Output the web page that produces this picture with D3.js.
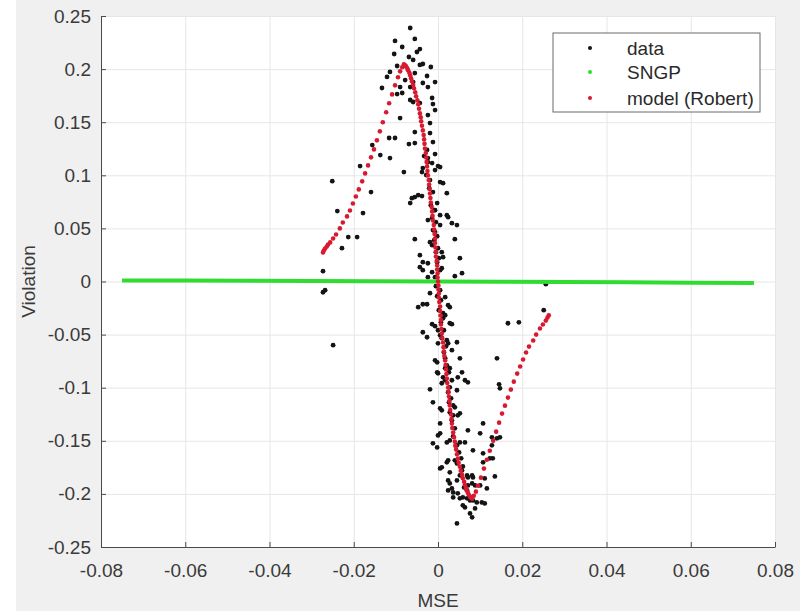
<!DOCTYPE html>
<html>
<head>
<meta charset="utf-8">
<script src="https://cdn.jsdelivr.net/npm/d3@7"></script>
<style>
  html, body { margin: 0; padding: 0; background: #fff; }
  #chart { width: 800px; height: 611px; }
  text { font-family: "Liberation Sans", Arial, Helvetica, sans-serif; }
</style>
</head>
<body>
<div id="chart"></div>
<script>
const xTicks = [-0.08, -0.06, -0.04, -0.02, 0, 0.02, 0.04, 0.06, 0.08];
const yTicks = [-0.25, -0.2, -0.15, -0.1, -0.05, 0, 0.05, 0.1, 0.15, 0.2, 0.25];
const legendLabels = ["data", "SNGP", "model (Robert)"];

// [MSE, Violation]
const dataPoints = [
  [-0.0066,0.2387],[-0.0055,0.2284],[-0.0102,0.2265],[-0.0085,0.2208],[-0.0043,0.2189],[-0.0050,0.2161],
  [-0.0104,0.2142],[-0.0069,0.2114],[-0.0059,0.2086],[-0.0097,0.2029],[-0.0043,0.2039],[-0.0036,0.2048],
  [-0.0017,0.2020],[-0.0114,0.1973],[-0.0121,0.1926],[-0.0055,0.1963],[-0.0026,0.1935],[-0.0078,0.1897],
  [-0.0059,0.1878],[-0.0036,0.1869],[-0.0007,0.1878],[-0.0133,0.1822],[-0.0090,0.1831],[-0.0066,0.1831],
  [-0.0024,0.1831],[-0.0097,0.1765],[-0.0085,0.1775],[-0.0066,0.1709],[-0.0059,0.1690],[-0.0043,0.1680],
  [-0.0014,0.1728],[-0.0012,0.1671],[-0.0007,0.1614],[-0.0024,0.1567],[-0.0090,0.1539],[-0.0019,0.1492],
  [-0.0055,0.1407],[-0.0019,0.1398],[-0.0156,0.1285],[-0.0116,0.1351],[-0.0102,0.1351],[-0.0069,0.1294],
  [-0.0055,0.1303],[-0.0012,0.1313],
  [-0.0185,0.1087],[-0.0137,0.1190],[-0.0114,0.1162],[-0.0081,0.1030],[-0.0251,0.0945],[-0.0159,0.0842],
  [-0.0239,0.0663],[-0.0178,0.0644],[-0.0213,0.0418],[-0.0192,0.0418],[-0.0228,0.0314],[-0.0273,0.0097],
  [-0.0268,-0.0082],[-0.0273,-0.0101],[-0.0249,-0.0600],
  [-0.0007,0.1200],[-0.0014,0.1115],[-0.0007,0.1049],[0.0000,0.1087],[0.0005,0.0936],[0.0012,0.0926],
  [0.0021,0.0832],[-0.0047,0.0813],[-0.0062,0.0785],[-0.0055,0.0795],[-0.0038,0.0804],[-0.0066,0.0738],
  [-0.0036,0.1068],[-0.0038,0.1030],[0.0005,0.1077],[-0.0024,0.1162],[-0.0002,0.0738],[-0.0007,0.0672],
  [0.0005,0.0625],[0.0021,0.0625],[0.0024,0.0606],[0.0033,0.0549],[0.0045,0.0531],[0.0005,0.0531],
  [-0.0012,0.0484],[-0.0055,0.0399],[-0.0014,0.0342],[-0.0019,0.0370],[0.0040,0.0399],[0.0009,0.0276],
  [0.0012,0.0229],[-0.0043,0.0248],[-0.0036,0.0182],[-0.0024,0.0172],[-0.0043,0.0135],[-0.0036,0.0107],
  [0.0052,0.0220],[0.0057,0.0078],[0.0040,0.0050],[-0.0014,0.0088],[-0.0007,0.0041],[0.0009,0.0125],
  [-0.0024,0.0578],[-0.0024,0.0041],
  [-0.0019,-0.0110],[-0.0047,-0.0242],[-0.0036,-0.0214],[-0.0026,-0.0214],[0.0017,-0.0148],[0.0024,-0.0223],
  [0.0028,-0.0242],[0.0012,-0.0299],[0.0017,-0.0318],[0.0028,-0.0393],[0.0033,-0.0402],[-0.0014,-0.0402],
  [-0.0007,-0.0421],[-0.0036,-0.0478],[-0.0026,-0.0525],[0.0000,-0.0459],[0.0005,-0.0506],[0.0021,-0.0553],
  [0.0024,-0.0582],[0.0045,-0.0572],[0.0000,-0.0582],[0.0033,-0.0647],[0.0052,-0.0723],[0.0140,-0.0723],
  [-0.0007,-0.0742],[-0.0002,-0.0761],[0.0017,-0.0723],[-0.0002,-0.0855],[0.0000,-0.0864],[0.0028,-0.0817],
  [0.0057,-0.0855],[0.0012,-0.0902],[0.0017,-0.0930],[0.0047,-0.0902],[0.0064,-0.0930],[0.0071,-0.0949],
  [0.0009,-0.0958],[0.0033,-0.0930],[-0.0019,-0.1015],[0.0028,-0.0996],[0.0145,-0.0968],[0.0147,-0.1006],
  [0.0045,-0.1024],[-0.0012,-0.1138],[0.0036,-0.1166],[0.0040,-0.1185],[0.0005,-0.1194],[0.0009,-0.1213],
  [0.0028,-0.1232],[0.0036,-0.1260],[0.0047,-0.1260],[0.0052,-0.1241],
  [0.0166,-0.0393],[0.0192,-0.0384],[0.0256,-0.0025],[0.0251,-0.0270],
  [0.0005,-0.1336],[0.0107,-0.1336],[0.0071,-0.1401],[0.0100,-0.1430],[0.0005,-0.1430],[0.0000,-0.1449],
  [-0.0012,-0.1524],[-0.0002,-0.1562],[0.0021,-0.1515],[0.0028,-0.1496],[0.0052,-0.1515],[0.0064,-0.1515],
  [0.0083,-0.1590],[0.0107,-0.1618],[0.0128,-0.1467],[0.0140,-0.1477],[0.0147,-0.1467],[0.0128,-0.1543],
  [0.0123,-0.1665],[0.0130,-0.1665],[0.0107,-0.1703],[0.0005,-0.1760],[0.0009,-0.1750],[0.0021,-0.1703],
  [0.0024,-0.1684],[0.0040,-0.1684],[0.0045,-0.1713],[0.0028,-0.1797],[0.0135,-0.1835],[0.0111,-0.1854],
  [0.0024,-0.1873],[0.0028,-0.1901],[0.0045,-0.1873],[0.0052,-0.1826],[0.0069,-0.1826],[0.0071,-0.1845],
  [0.0081,-0.1826],[0.0083,-0.1845],[0.0071,-0.1920],[0.0081,-0.1901],[0.0088,-0.1920],[0.0100,-0.1920],
  [0.0116,-0.1948],[0.0024,-0.1967],[0.0033,-0.1948],[0.0036,-0.1986],[0.0047,-0.1995],[0.0036,-0.2033],
  [0.0052,-0.2042],[0.0059,-0.2033],[0.0069,-0.2042],[0.0076,-0.2061],[0.0083,-0.2061],[0.0092,-0.2080],
  [0.0104,-0.2080],[0.0111,-0.2090],[0.0059,-0.2108],[0.0064,-0.2127],[0.0088,-0.2137],[0.0076,-0.2184],
  [0.0081,-0.2221],[0.0045,-0.2278],
  [-0.0026,0.1238],[-0.0033,0.1181],[-0.0024,0.1124],[-0.0028,0.1002],[-0.0019,0.0955],[-0.0021,0.0879],
  [-0.0012,0.0842],[-0.0017,0.0719],[-0.0009,0.0672],[-0.0014,0.0597],[-0.0005,0.0559],[-0.0007,0.0465],
  [-0.0002,0.0427],[-0.0009,0.0389],[0.0000,0.0314],[-0.0005,0.0276],[0.0002,0.0220],[-0.0002,0.0182],
  [0.0005,0.0107],[-0.0005,-0.0044],[0.0005,-0.0082],[-0.0002,-0.0139],[0.0007,-0.0176],[0.0002,-0.0270],
  [0.0012,-0.0346],[0.0007,-0.0384],[0.0014,-0.0459],[0.0009,-0.0534],[0.0019,-0.0610],[0.0014,-0.0666],
  [0.0021,-0.0789],[0.0017,-0.0817],[0.0026,-0.0855],[0.0024,-0.1043],[0.0031,-0.1100],[0.0026,-0.1138],
  [0.0033,-0.1307],[0.0040,-0.1383],[0.0036,-0.1458],[0.0045,-0.1543],[0.0050,-0.1609],[0.0055,-0.1665],
  [0.0059,-0.1741],[0.0057,-0.1779],[0.0062,-0.1939],[0.0069,-0.1967]
];

const sngpPoints = [
  [-0.075,0.0010],[-0.060,0.0009],[-0.045,0.0007],[-0.030,0.0005],[-0.015,0.0002],[0.000,0.0000],
  [0.015,-0.0003],[0.030,-0.0005],[0.045,-0.0008],[0.060,-0.0011],[0.075,-0.0014]
];

const modelPoints = [
  // rising branch
  [-0.0273,0.0273],[-0.0271,0.0292],[-0.0268,0.0311],[-0.0264,0.0330],[-0.0261,0.0349],[-0.0256,0.0368],
  [-0.0249,0.0405],[-0.0242,0.0443],[-0.0233,0.0500],[-0.0226,0.0556],[-0.0216,0.0613],[-0.0209,0.0669],
  [-0.0202,0.0735],[-0.0195,0.0801],[-0.0188,0.0867],[-0.0180,0.0943],[-0.0173,0.1018],[-0.0166,0.1093],
  [-0.0159,0.1169],[-0.0152,0.1244],[-0.0145,0.1329],[-0.0138,0.1414],[-0.0131,0.1499],[-0.0123,0.1593],
  [-0.0116,0.1678],[-0.0109,0.1762],[-0.0102,0.1847],[-0.0095,0.1923],[-0.0090,0.1979],[-0.0085,0.2017],
  // steep part through the origin
  [-0.0081,0.2045],[-0.0078,0.2035],[-0.0076,0.2026],[-0.0073,0.2008],[-0.0071,0.1989],[-0.0068,0.1966],
  [-0.0066,0.1942],[-0.0064,0.1914],[-0.0062,0.1885],[-0.0059,0.1852],[-0.0057,0.1819],[-0.0054,0.1782],
  [-0.0052,0.1744],[-0.0049,0.1706],[-0.0047,0.1668],[-0.0045,0.1626],[-0.0043,0.1583],[-0.0041,0.1546],
  [-0.0040,0.1508],[-0.0038,0.1466],[-0.0036,0.1423],[-0.0034,0.1380],[-0.0033,0.1338],[-0.0032,0.1296],
  [-0.0031,0.1253],[-0.0029,0.1210],[-0.0028,0.1168],[-0.0027,0.1126],[-0.0026,0.1084],[-0.0025,0.1041],
  [-0.0024,0.0999],[-0.0022,0.0956],[-0.0021,0.0914],[-0.0020,0.0872],[-0.0019,0.0829],[-0.0018,0.0786],
  [-0.0017,0.0744],[-0.0015,0.0702],[-0.0014,0.0660],[-0.0013,0.0618],[-0.0012,0.0575],[-0.0010,0.0532],
  [-0.0009,0.0490],[-0.0008,0.0448],[-0.0007,0.0405],[-0.0007,0.0362],[-0.0006,0.0320],[-0.0005,0.0278],
  [-0.0005,0.0236],[-0.0003,0.0194],[-0.0002,0.0151],[-0.0002,0.0113],[-0.0001,0.0075],[-0.0001,0.0038],
  [0.0000,0.0000],
  [0.0001,-0.0038],[0.0001,-0.0075],[0.0002,-0.0113],[0.0002,-0.0151],[0.0003,-0.0194],[0.0005,-0.0236],
  [0.0005,-0.0278],[0.0006,-0.0320],[0.0007,-0.0362],[0.0007,-0.0405],[0.0008,-0.0448],[0.0009,-0.0490],
  [0.0010,-0.0532],[0.0012,-0.0575],[0.0013,-0.0618],[0.0014,-0.0660],[0.0015,-0.0702],[0.0017,-0.0744],
  [0.0018,-0.0786],[0.0019,-0.0829],[0.0020,-0.0872],[0.0021,-0.0914],[0.0022,-0.0956],[0.0024,-0.0999],
  [0.0025,-0.1041],[0.0026,-0.1084],[0.0027,-0.1126],[0.0028,-0.1168],[0.0029,-0.1210],[0.0031,-0.1253],
  [0.0032,-0.1296],[0.0033,-0.1338],[0.0034,-0.1380],[0.0036,-0.1423],[0.0038,-0.1466],[0.0040,-0.1508],
  [0.0041,-0.1546],[0.0043,-0.1583],[0.0045,-0.1626],[0.0047,-0.1668],[0.0049,-0.1706],[0.0052,-0.1744],
  [0.0054,-0.1782],[0.0057,-0.1819],[0.0059,-0.1852],[0.0062,-0.1885],[0.0064,-0.1914],[0.0066,-0.1942],
  [0.0068,-0.1966],[0.0071,-0.1989],[0.0073,-0.2008],[0.0076,-0.2026],[0.0078,-0.2035],[0.0081,-0.2045],
  // returning branch
  [0.0085,-0.2017],[0.0090,-0.1979],[0.0095,-0.1923],[0.0102,-0.1847],[0.0109,-0.1762],[0.0116,-0.1678],
  [0.0123,-0.1593],[0.0131,-0.1499],[0.0138,-0.1414],[0.0145,-0.1329],[0.0152,-0.1244],[0.0159,-0.1169],
  [0.0166,-0.1093],[0.0173,-0.1018],[0.0180,-0.0943],[0.0188,-0.0867],[0.0195,-0.0801],[0.0202,-0.0735],
  [0.0209,-0.0669],[0.0216,-0.0613],[0.0226,-0.0556],[0.0233,-0.0500],[0.0242,-0.0443],[0.0249,-0.0405],
  [0.0256,-0.0368],[0.0260,-0.0340],[0.0263,-0.0318]
];

const colors = { data: "#141414", sngp: "#2fdc2f", model: "#d81a30" };

function fmtTick(d) {
    return String(+d.toFixed(2));
}

function buildScatter() {
    const W = 800, H = 611;
    const margin = { top: 16, right: 25, bottom: 64, left: 101 };
    const width = W - margin.left - margin.right;
    const height = H - margin.top - margin.bottom;

    const root = d3.select("#chart").append("svg")
        .attr("width", W)
        .attr("height", H);

    // figure background
    root.append("rect").attr("x", 16).attr("y", 0).attr("width", W - 16).attr("height", H).attr("fill", "#f0f0f0");

    const svg = root.append("g").attr("transform", `translate(${margin.left},${margin.top})`);

    const xScale = d3.scaleLinear().domain([-0.08, 0.08]).range([0, width]);
    const yScale = d3.scaleLinear().domain([-0.25, 0.25]).range([height, 0]);

    svg.append("rect").attr("width", width).attr("height", height).attr("fill", "#fff");

    // grid
    const gx = svg.append("g")
        .attr("transform", `translate(0,${height})`)
        .call(d3.axisBottom(xScale).tickValues(xTicks).tickSize(-height).tickFormat(""));
    const gy = svg.append("g")
        .call(d3.axisLeft(yScale).tickValues(yTicks).tickSize(-width).tickFormat(""));
    [gx, gy].forEach(g => {
        g.select(".domain").remove();
        g.selectAll("line").attr("stroke", "#e6e6e6").attr("stroke-width", 1);
    });

    const plot = svg.append("g");

    plot.selectAll(".dot-data")
        .data(dataPoints)
        .enter()
        .append("circle")
        .attr("class", "dot-data")
        .attr("cx", d => xScale(d[0]))
        .attr("cy", d => yScale(d[1]))
        .attr("r", 2.4)
        .attr("fill", colors.data);

    const line = d3.line().x(d => xScale(d[0])).y(d => yScale(d[1]));
    plot.append("path")
        .datum(sngpPoints)
        .attr("d", line)
        .attr("fill", "none")
        .attr("stroke", colors.sngp)
        .attr("stroke-width", 4);

    plot.selectAll(".dot-model")
        .data(modelPoints)
        .enter()
        .append("circle")
        .attr("class", "dot-model")
        .attr("cx", d => xScale(d[0]))
        .attr("cy", d => yScale(d[1]))
        .attr("r", 2.3)
        .attr("fill", colors.model);

    // axes, ticks pointing inward
    const xAxis = svg.append("g")
        .attr("transform", `translate(0,${height})`)
        .call(d3.axisBottom(xScale).tickValues(xTicks).tickSize(-5).tickSizeOuter(0).tickPadding(17).tickFormat(fmtTick));
    const yAxis = svg.append("g")
        .call(d3.axisLeft(yScale).tickValues(yTicks).tickSize(-5).tickSizeOuter(0).tickPadding(10).tickFormat(fmtTick));
    [xAxis, yAxis].forEach(g => {
        g.select(".domain").attr("stroke", "#4a4a4a");
        g.selectAll(".tick line").attr("stroke", "#4a4a4a");
        g.selectAll("text")
            .attr("fill", "#3a3a3a")
            .style("font-size", "19px")
            .style("font-family", '"Liberation Sans", Arial, sans-serif');
    });

    root.append("text")
        .attr("x", margin.left + width / 2)
        .attr("y", 600)
        .attr("dy", "0.35em")
        .attr("text-anchor", "middle")
        .attr("fill", "#3a3a3a")
        .style("font-size", "19px")
        .text("MSE");

    root.append("text")
        .attr("transform", `translate(28,${margin.top + height / 2}) rotate(-90)`)
        .attr("dy", "0.35em")
        .attr("text-anchor", "middle")
        .attr("fill", "#3a3a3a")
        .style("font-size", "19px")
        .text("Violation");

    // legend
    const legend = root.append("g").attr("transform", "translate(553,33)");
    legend.append("rect")
        .attr("width", 207)
        .attr("height", 79)
        .attr("fill", "#fff")
        .attr("stroke", "#6a6a6a")
        .attr("stroke-width", 1);
    const legendColors = [colors.data, colors.sngp, colors.model];
    const legendY = [15, 39, 65];
    legendLabels.forEach((label, i) => {
        legend.append("circle")
            .attr("cx", 37)
            .attr("cy", legendY[i])
            .attr("r", 2)
            .attr("fill", legendColors[i]);
        legend.append("text")
            .attr("x", 74)
            .attr("y", legendY[i])
            .attr("dy", "0.35em")
            .attr("fill", "#2a2a2a")
            .style("font-size", "19px")
            .text(label);
    });
}

buildScatter();
</script>
</body>
</html>
